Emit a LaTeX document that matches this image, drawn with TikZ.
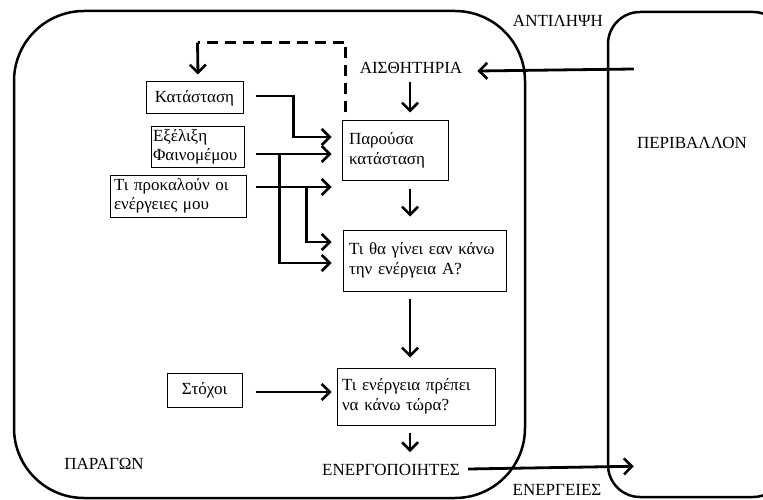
\documentclass[tikz,border=0pt]{standalone}
\usepackage{fontspec}
\setmainfont{Liberation Serif}
\usetikzlibrary{arrows.meta,calc}
\begin{document}
\begin{tikzpicture}[x=1pt,y=-1pt,
  txt/.style={font=\fontsize{17}{19.5}\selectfont},
  box/.style={txt, draw, line width=1pt, inner sep=0pt},
  lab/.style={txt, inner sep=0pt},
  frame/.style={draw, line width=2.5pt, inner sep=0pt},
  arr/.style={line width=2.8pt, -{Straight Barb[length=8pt,width=16pt,line width=2.6pt]}},
  dline/.style={line width=2.8pt, dash pattern=on 11pt off 7pt},
]
\useasboundingbox (0,0) rectangle (763,500);
\begin{scope}
\clip (0,0) rectangle (763,500);
% frames
\node[frame, rounded corners=70pt, minimum width=511pt, minimum height=487pt] (agent) at (269.5,254.5) {};
\node[frame, rounded corners=32pt, minimum width=177pt, minimum height=485pt] (envbox) at (696.5,254.5) {};
\end{scope}

% labels
\node[lab] (antil) at (558,21) {ΑΝΤΙΛΗΨΗ};
\node[lab] (ais) at (411,68) {ΑΙΣΘΗΤΗΡΙΑ};
\node[lab] (env) at (692,143) {ΠΕΡΙΒΑΛΛΟΝ};
\node[lab] (parag) at (104,464) {ΠΑΡΑΓΩΝ};
\node[lab] (ener) at (391,470) {ΕΝΕΡΓΟΠΟΙΗΤΕΣ};
\node[lab] (energ) at (557,490) {ΕΝΕΡΓΕΙΕΣ};

% boxes
\node[box, minimum width=97pt, minimum height=32pt] (kat) at (194.5,98) {Κατάσταση};
\node[box, minimum width=93pt, minimum height=40pt, text width=89pt, align=left] (exe) at (197.5,147) {Εξέλιξη\\ Φαινομέμου};
\node[box, minimum width=136pt, minimum height=42pt, text width=128pt, align=left] (tpk) at (178,196) {Τι προκαλούν οι\\ ενέργειες μου};
\node[box, minimum width=106pt, minimum height=59pt, text width=92pt, align=left] (paro) at (395,150.5) {Παρούσα\\ κατάσταση};
\node[box, minimum width=163pt, minimum height=61pt, text width=151pt, align=left] (thg) at (424.5,260.5) {Τι θα γίνει εαν κάνω\\ την ενέργεια Α?};
\node[box, minimum width=75pt, minimum height=34pt] (sto) at (204.5,390) {Στόχοι};
\node[box, minimum width=158pt, minimum height=57pt, text width=148pt, align=left] (tea) at (416,396.5) {Τι ενέργεια πρέπει\\ να κάνω τώρα?};

% dashed feedback
\draw[dline] ($(paro.north west)+(4,-8)$) -- ++(0,-70) -- ++(-148,0) coordinate (fb);
\draw[arr] (fb) -- ($(kat.north)+(3.5,-7)$);

% inputs to Παρούσα / Τι θα γίνει
\draw[arr] ($(kat.east)+(12,-2)$) -- ++(38,0) |- ($(paro.west)+(-10,-13.5)$);
\draw[arr] ($(exe.east)+(11,7)$) -- ($(paro.west)+(-10,3.5)$);
\draw[arr] ($(exe.east)+(35,7)$) |- ($(thg.west)+(-11,2.5)$);
\draw[arr] ($(tpk.east)+(9,-9)$) -- ($(paro.west)+(-10,36.5)$);
\draw[arr] ($(tpk.east)+(60,-9)$) |- ($(thg.west)+(-11,-18.5)$);

% main chain
\draw[arr] ($(ais.south)+(-1,8)$) -- ($(paro.north)+(15,-8)$);
\draw[arr] ($(paro.south)+(15,8)$) -- ($(thg.north)+(-14.5,-13)$);
\draw[arr] ($(thg.south)+(-14.5,7)$) -- ($(tea.north)+(-6,-10)$);
\draw[arr] ($(tea.south)+(-6,7)$) -- ($(ener.north)+(19,-12)$);
\draw[arr] ($(sto.east)+(13,2)$) -- ($(tea.west)+(-5,-4.5)$);

% environment loop
\draw[arr] ($(ener.east)+(8,-1)$) -- ($(envbox.south west)+(27,-32)$);
\draw[arr] ($(envbox.west)+(27,-185.5)$) -- ($(ais.east)+(15,3)$);
\end{tikzpicture}
\end{document}
